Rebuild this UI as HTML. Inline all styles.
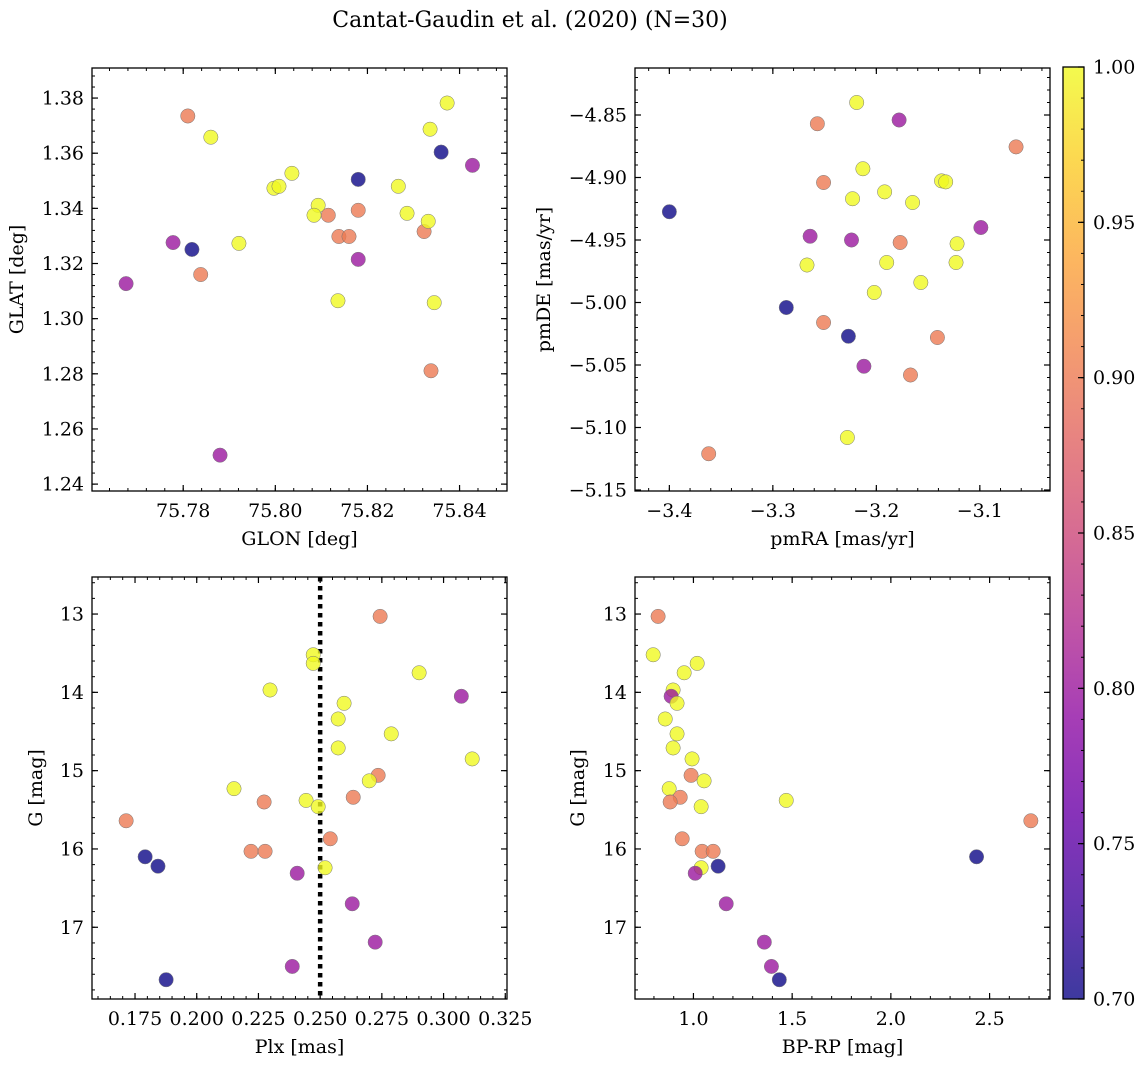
<!DOCTYPE html>
<html><head><meta charset="utf-8">
<style>
html,body{margin:0;padding:0;background:#fff;}
svg{display:block;font-family:"DejaVu Serif","Liberation Serif",serif;}
</style></head>
<body>
<svg id="fig" width="1148" height="1067" viewBox="0 0 1148 1067" xmlns="http://www.w3.org/2000/svg">
<defs>
<linearGradient id="plasma" x1="0" y1="1" x2="0" y2="0">
<stop offset="0" stop-color="#0d0887"/><stop offset="0.1" stop-color="#41049d"/>
<stop offset="0.2" stop-color="#6a00a8"/><stop offset="0.3" stop-color="#8f0da4"/>
<stop offset="0.4" stop-color="#b12a90"/><stop offset="0.5" stop-color="#cc4778"/>
<stop offset="0.6" stop-color="#e16462"/><stop offset="0.7" stop-color="#f2844b"/>
<stop offset="0.8" stop-color="#fca636"/><stop offset="0.9" stop-color="#fcce25"/>
<stop offset="1" stop-color="#f0f921"/>
</linearGradient>
</defs>
<text x="530" y="27" font-size="22" text-anchor="middle">Cantat-Gaudin et al. (2020) (N=30)</text>
</svg>
<script>
// membership probability per star (colour)
const prob = [0.9,1,0.8,0.7,0.9,0.8,1,0.8,1,1,1,1,1,0.9,0.9,0.9,0.9,0.7,0.8,1,1,1,0.9,1,1,1,0.7,0.8,1,0.9];
const glon = [75.7810,75.7860,75.7778,75.7819,75.7838,75.7676,75.7921,75.7880,75.7997,75.8008,75.8036,75.8093,75.8084,75.8115,75.8138,75.8160,75.8180,75.8180,75.8180,75.8136,75.8267,75.8286,75.8323,75.8332,75.8336,75.8373,75.8360,75.8428,75.8345,75.8338];
const glat = [1.3735,1.3658,1.3276,1.3251,1.3160,1.3127,1.3273,1.2505,1.3473,1.3480,1.3527,1.3411,1.3375,1.3375,1.3298,1.3298,1.3393,1.3505,1.3215,1.3065,1.3480,1.3382,1.3316,1.3353,1.3687,1.3782,1.3604,1.3556,1.3058,1.2811];

const prob2 = [0.7,0.9,1,0.8,0.9,1,0.9,1,1,1,1,1,0.8,1,0.9,0.8,0.8,1,1,1,1,1,0.7,0.9,0.9,0.7,0.8,0.9,1,0.9];
const pmra = [-3.400,-3.257,-3.219,-3.178,-3.065,-3.213,-3.251,-3.223,-3.192,-3.165,-3.137,-3.133,-3.099,-3.122,-3.177,-3.264,-3.224,-3.267,-3.190,-3.123,-3.202,-3.157,-3.287,-3.251,-3.141,-3.227,-3.212,-3.167,-3.228,-3.362];
const pmde = [-4.9274,-4.857,-4.840,-4.854,-4.8755,-4.893,-4.904,-4.917,-4.9115,-4.920,-4.9027,-4.9035,-4.940,-4.953,-4.952,-4.947,-4.950,-4.970,-4.968,-4.968,-4.992,-4.984,-5.004,-5.016,-5.028,-5.027,-5.051,-5.058,-5.108,-5.121];

const prob3 = [0.9,1,1,1,1,0.8,1,1,1,1,1,0.9,1,1,0.9,0.9,1,1,0.9,0.9,0.9,0.9,0.7,1,0.7,0.8,0.8,0.8,0.8,0.7];
const gmag = [13.03,13.52,13.63,13.75,13.97,14.05,14.14,14.34,14.53,14.71,14.85,15.06,15.13,15.23,15.34,15.40,15.38,15.46,15.64,15.87,16.03,16.03,16.10,16.24,16.22,16.31,16.70,17.19,17.50,17.67];
const plx = [0.2743,0.2472,0.2472,0.2901,0.2297,0.3072,0.2597,0.2573,0.2788,0.2573,0.3116,0.2735,0.2699,0.2151,0.2634,0.2273,0.2443,0.2492,0.1714,0.2541,0.2220,0.2277,0.1791,0.2520,0.1843,0.2407,0.2630,0.2723,0.2387,0.1876];
const bprp = [0.821,0.796,1.019,0.953,0.897,0.887,0.917,0.857,0.917,0.897,0.993,0.988,1.054,0.877,0.933,0.882,1.470,1.039,2.709,0.943,1.044,1.100,2.434,1.039,1.125,1.009,1.166,1.359,1.395,1.435];
const plxRef = [0.25];

const xt1=[75.78,75.80,75.82,75.84], yt1=[1.24,1.26,1.28,1.30,1.32,1.34,1.36,1.38];
const xt2=[-3.4,-3.3,-3.2,-3.1], yt2=[-5.15,-5.10,-5.05,-5.00,-4.95,-4.90,-4.85];
const xt3=[0.175,0.200,0.225,0.250,0.275,0.300,0.325], yt3=[13,14,15,16,17];
const xt4=[1.0,1.5,2.0,2.5];
const cbt=[0.70,0.75,0.80,0.85,0.90,0.95,1.00];

const NS="http://www.w3.org/2000/svg";
const svg=document.getElementById('fig');
function mk(tag,attrs,parent){const e=document.createElementNS(NS,tag);for(const k in attrs)e.setAttribute(k,attrs[k]);(parent||svg).appendChild(e);return e;}
const stops=[[0,[13,8,135]],[0.1,[65,4,157]],[0.2,[106,0,168]],[0.3,[143,13,164]],[0.4,[177,42,144]],[0.5,[204,71,120]],[0.6,[225,100,98]],[0.7,[242,132,75]],[0.8,[252,166,54]],[0.9,[252,206,37]],[1,[240,249,33]]];
function plasma(t){t=Math.max(0,Math.min(1,t));for(let i=1;i<stops.length;i++){if(t<=stops[i][0]){const a=stops[i-1],b=stops[i];const f=(t-a[0])/(b[0]-a[0]);return 'rgb('+a[1].map((v,j)=>Math.round(v+(b[1][j]-v)*f)).join(',')+')';}}return 'rgb(240,249,33)';}
const vmin=0.7,vmax=1.0;
const FS=19;

function fmt(v,d){const s=Math.abs(v).toFixed(d);return (v<0?'\u2212':'')+s;}

function panel(o){
  const g=mk('g',{});
  
  
  const X=v=>o.L+(v-o.x0)/(o.x1-o.x0)*(o.R-o.L);
  const Y=v=>o.B-(v-o.y0)/(o.y1-o.y0)*(o.B-o.T);
  const eps=1e-9;
  for(let v=Math.ceil(o.x0/o.xm-eps)*o.xm; v<=o.x1+eps; v+=o.xm){const x=X(v);mk('line',{x1:x,x2:x,y1:o.B,y2:o.B-3,stroke:'#000','stroke-width':1},g);mk('line',{x1:x,x2:x,y1:o.T,y2:o.T+3,stroke:'#000','stroke-width':1},g);}
  for(let v=Math.ceil(Math.min(o.y0,o.y1)/o.ym-eps)*o.ym; v<=Math.max(o.y0,o.y1)+eps; v+=o.ym){const y=Y(v);mk('line',{x1:o.L,x2:o.L+3,y1:y,y2:y,stroke:'#000','stroke-width':1},g);mk('line',{x1:o.R,x2:o.R-3,y1:y,y2:y,stroke:'#000','stroke-width':1},g);}
  o.xt.forEach(v=>{const x=X(v);
    mk('line',{x1:x,x2:x,y1:o.B,y2:o.B-6,stroke:'#000','stroke-width':1.2},g);
    mk('line',{x1:x,x2:x,y1:o.T,y2:o.T+6,stroke:'#000','stroke-width':1.2},g);
    const t=mk('text',{x:x,y:o.B+26,'font-size':FS,'text-anchor':'middle'},g);t.textContent=fmt(v,o.xd);
    
    });
  o.yt.forEach(v=>{const y=Y(v);
    mk('line',{x1:o.L,x2:o.L+6,y1:y,y2:y,stroke:'#000','stroke-width':1.2},g);
    mk('line',{x1:o.R,x2:o.R-6,y1:y,y2:y,stroke:'#000','stroke-width':1.2},g);
    const t=mk('text',{x:o.L-8,y:y+6.5,'font-size':FS,'text-anchor':'end'},g);t.textContent=fmt(v,o.yd);
    
    });
  if(o.vline){o.vline.forEach(v=>{const l=mk('line',{x1:X(v),x2:X(v),y1:o.T,y2:o.B,stroke:'#000','stroke-width':4.5,'stroke-dasharray':'4.5 4.5'},g);
    
    });}
  for(let i=0;i<o.xs.length;i++){
    const c=mk('circle',{cx:X(o.xs[i]),cy:Y(o.ys[i]),r:7.2,fill:plasma((o.cs[i]-vmin)/(vmax-vmin)),'fill-opacity':0.8,stroke:'#777','stroke-width':0.5},g);
    
    
  }
  const fr=mk('rect',{x:o.L,y:o.T,width:o.R-o.L,height:o.B-o.T,fill:'none',stroke:'#000','stroke-width':1.3},g);
  
  
  const xl=mk('text',{x:(o.L+o.R)/2,y:o.B+54,'font-size':FS,'text-anchor':'middle'},g);xl.textContent=o.xl;
  
  
  const yx=o.ylx, yy=(o.T+o.B)/2;
  const yl=mk('text',{x:yx,y:yy,'font-size':FS,'text-anchor':'middle',transform:'rotate(-90 '+yx+' '+yy+')'},g);yl.textContent=o.yl;
  
  
}

panel({name:'glon-glat-panel',L:92,R:507,T:68,B:491,x0:75.7602,x1:75.8503,y0:1.2375,y1:1.3909,xm:0.004,ym:0.004,xt:xt1,yt:yt1,xd:2,yd:2,xs:glon,ys:glat,cs:prob,xl:'GLON [deg]',yl:'GLAT [deg]',ylx:23});
panel({name:'pm-panel',L:635,R:1050,T:68,B:491,x0:-3.4332,x1:-3.0322,y0:-5.1508,y1:-4.8124,xm:0.02,ym:0.01,xt:xt2,yt:yt2,xd:1,yd:2,xs:pmra,ys:pmde,cs:prob2,xl:'pmRA [mas/yr]',yl:'pmDE [mas/yr]',ylx:550});
panel({name:'plx-g-panel',L:92,R:507,T:577,B:999,x0:0.15757,x1:0.3257,y0:17.916,y1:12.527,xm:0.005,ym:0.2,xt:xt3,yt:yt3,xd:3,yd:0,xs:plx,ys:gmag,cs:prob3,xl:'Plx [mas]',yl:'G [mag]',ylx:42,vline:plxRef});
panel({name:'cmd-panel',L:635,R:1050,T:577,B:999,x0:0.704,x1:2.806,y0:17.916,y1:12.527,xm:0.1,ym:0.2,xt:xt4,yt:yt3,xd:1,yd:0,xs:bprp,ys:gmag,cs:prob3,xl:'BP-RP [mag]',yl:'G [mag]',ylx:584});

// colorbar
const cb=mk('g',{});


const cL=1063,cR=1084,cT=67,cB=999;
mk('rect',{x:cL,y:cT,width:cR-cL,height:cB-cT,fill:'url(#plasma)','fill-opacity':0.8},cb);
const CY=v=>cB-(v-vmin)/(vmax-vmin)*(cB-cT);
for(let v=0.70;v<=1.0001;v+=0.01){const y=CY(v);mk('line',{x1:cR,x2:cR-3,y1:y,y2:y,stroke:'#000','stroke-width':1},cb);}
cbt.forEach(v=>{const y=CY(v);mk('line',{x1:cR,x2:cR-6,y1:y,y2:y,stroke:'#000','stroke-width':1.2},cb);
  const t=mk('text',{x:cR+9,y:y+6.5,'font-size':FS},cb);t.textContent=v.toFixed(2);
  
  });
mk('rect',{x:cL,y:cT,width:cR-cL,height:cB-cT,fill:'none',stroke:'#000','stroke-width':1.3},cb);
</script>
</body></html>
